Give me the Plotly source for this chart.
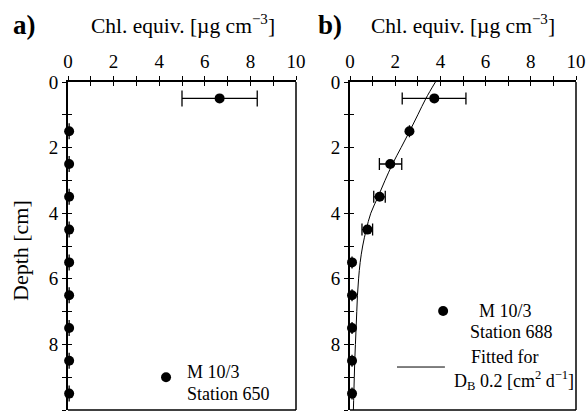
import plotly.graph_objects as go

# ---------------- data ----------------
# Panel a) station 650
a_depth = [0.5, 1.5, 2.5, 3.5, 4.5, 5.5, 6.5, 7.5, 8.5, 9.5]
a_chl = [6.65, 0.05, 0.05, 0.05, 0.05, 0.05, 0.05, 0.05, 0.05, 0.05]
a_err_plus = [1.65, 0, 0, 0, 0, 0, 0, 0, 0, 0]
a_err_minus = [1.65, 0, 0, 0, 0, 0, 0, 0, 0, 0]

# Panel b) station 688
b_depth = [0.5, 1.5, 2.5, 3.5, 4.5, 5.5, 6.5, 7.5, 8.5, 9.5]
b_chl = [3.73, 2.63, 1.78, 1.31, 0.77, 0.09, 0.09, 0.09, 0.09, 0.09]
b_err_plus = [1.40, 0, 0.51, 0.25, 0.23, 0, 0, 0, 0, 0]
b_err_minus = [1.42, 0, 0.48, 0.26, 0.24, 0, 0, 0, 0, 0]

# fitted curve (D_B 0.2)
fit_depth = [0, 0.5, 1, 1.5, 2, 2.5, 3, 3.5, 4, 4.5, 5, 5.5, 6, 6.5, 7, 7.5, 8, 8.5, 9, 9.5, 10]
fit_chl = [3.78, 3.36, 3.0, 2.64, 2.26, 1.88, 1.55, 1.24, 0.92, 0.72, 0.56, 0.45, 0.38, 0.33, 0.30, 0.27, 0.24, 0.21, 0.19, 0.17, 0.15]

# legend sample positions
leg_a_marker = ([4.3], [9.0])
leg_b_marker = ([4.12], [6.98])
leg_b_line = ([2.08, 4.2], [8.69, 8.69])

x_ticks = [0, 2, 4, 6, 8, 10]
y_ticks = [0, 2, 4, 6, 8, 10]

FONT = "Liberation Serif"
BLACK = "black"

fig = go.Figure()

dom_a = [68 / 586, 296 / 586]
dom_b = [350 / 586, 576 / 586]
dom_y = [1 - 410 / 415, 1 - 82 / 415]

def pts(x, y, ep, em, xa, ya, capw):
    fig.add_trace(go.Scatter(
        x=x, y=y, mode="markers", xaxis=xa, yaxis=ya,
        marker=dict(size=10, color=BLACK),
        error_x=dict(type="data", array=ep, arrayminus=em, symmetric=False,
                     color=BLACK, thickness=1.3, width=capw),
        showlegend=False, cliponaxis=False))

pts(a_chl, a_depth, a_err_plus, a_err_minus, "x", "y", 8)
pts(b_chl, b_depth, b_err_plus, b_err_minus, "x2", "y2", 6)

fig.add_trace(go.Scatter(x=fit_chl, y=fit_depth, mode="lines", xaxis="x2", yaxis="y2",
                         line=dict(color=BLACK, width=1, shape="spline"), showlegend=False))

# legend symbols
fig.add_trace(go.Scatter(x=leg_a_marker[0], y=leg_a_marker[1], mode="markers", xaxis="x", yaxis="y",
                         marker=dict(size=10, color=BLACK), showlegend=False))
fig.add_trace(go.Scatter(x=leg_b_marker[0], y=leg_b_marker[1], mode="markers", xaxis="x2", yaxis="y2",
                         marker=dict(size=10, color=BLACK), showlegend=False))
fig.add_trace(go.Scatter(x=leg_b_line[0], y=leg_b_line[1], mode="lines", xaxis="x2", yaxis="y2",
                         line=dict(color=BLACK, width=1), showlegend=False))

tickfont = dict(family=FONT, size=19, color=BLACK)

def xaxis(dom, anchor, main=True, overlay=None):
    d = dict(domain=dom, range=[0, 10], side="top", anchor=anchor,
             tickvals=x_ticks, showgrid=False, zeroline=False,
             ticklen=4, tickwidth=1.2, tickcolor=BLACK,
             minor=dict(dtick=1, tick0=0, ticklen=4, tickwidth=1.2, tickcolor=BLACK,
                        ticks="outside" if main else "inside", showgrid=False),
             fixedrange=True, automargin=False)
    if main:
        d.update(ticks="outside", showline=True, linecolor=BLACK, linewidth=2,
                 tickfont=tickfont, ticklabelstandoff=0)
    else:
        d.update(ticks="inside", showline=False, showticklabels=False, overlaying=overlay)
    return d

def yaxis(anchor, main=True, overlay=None):
    d = dict(domain=dom_y, range=[10, 0], anchor=anchor,
             tickvals=y_ticks, showgrid=False, zeroline=False,
             ticklen=4, tickwidth=1.2, tickcolor=BLACK,
             minor=dict(dtick=1, tick0=0, ticklen=4, tickwidth=1.2, tickcolor=BLACK,
                        ticks="outside" if main else "inside", showgrid=False),
             fixedrange=True, automargin=False)
    if main:
        d.update(ticks="outside", showline=True, linecolor=BLACK, linewidth=2,
                 tickfont=tickfont, ticklabelstandoff=0)
    else:
        d.update(ticks="inside", showline=False, showticklabels=False, overlaying=overlay)
    return d

fig.update_layout(
    width=586, height=415, autosize=False,
    margin=dict(l=0, r=0, t=0, b=0, pad=0),
    paper_bgcolor="white", plot_bgcolor="white",
    font=dict(family=FONT, color=BLACK),
    xaxis=xaxis(dom_a, "y"),
    yaxis=yaxis("x"),
    xaxis2=xaxis(dom_b, "y2"),
    yaxis2=yaxis("x2"),
    xaxis3=xaxis(dom_a, "y", main=False, overlay="x"),
    yaxis3=yaxis("x", main=False, overlay="y"),
    xaxis4=xaxis(dom_b, "y2", main=False, overlay="x2"),
    yaxis4=yaxis("x2", main=False, overlay="y2"),
    showlegend=False,
)

# dummy traces to activate overlay axes
fig.add_trace(go.Scatter(x=[None], y=[None], xaxis="x3", yaxis="y3", showlegend=False))
fig.add_trace(go.Scatter(x=[None], y=[None], xaxis="x4", yaxis="y4", showlegend=False))

# right/bottom frame lines
for xd in ("x", "x2"):
    fig.add_shape(type="line", xref=f"{xd} domain", yref="paper", x0=1, x1=1,
                  y0=dom_y[0], y1=dom_y[1], line=dict(color=BLACK, width=1.5))
    fig.add_shape(type="line", xref=f"{xd} domain", yref="paper", x0=0, x1=1,
                  y0=dom_y[0], y1=dom_y[0], line=dict(color=BLACK, width=1.5))

def px(xp, yp):
    return xp / 586, 1 - yp / 415

def ann(xp, yp, text, size, xanchor="center", angle=0):
    x, y = px(xp, yp)
    fig.add_annotation(x=x, y=y, xref="paper", yref="paper", text=text, showarrow=False,
                       xanchor=xanchor, yanchor="middle", textangle=angle,
                       font=dict(family=FONT, size=size, color=BLACK))

ann(24.5, 25, "<b>a)</b>", 27)
ann(329.5, 25, "<b>b)</b>", 27)
ann(183, 25, "Chl. equiv. [µg cm<sup>−3</sup>]", 21.5)
ann(463, 25, "Chl. equiv. [µg cm<sup>−3</sup>]", 21.5)
ann(20, 251, "Depth [cm]", 22, angle=-90)

ann(185, 372, "M 10/3", 18, xanchor="left")
ann(185, 394, "Station 650", 18, xanchor="left")
ann(505, 311, "M 10/3", 18)
ann(511, 332, "Station 688", 18)
ann(505, 357, "Fitted for", 18)
ann(514, 380, "D<sub>B</sub> 0.2 [cm<sup>2</sup> d<sup>−1</sup>]", 18)

fig.write_html("out.html", config={"responsive": False, "displayModeBar": False},
               post_script="document.body.style.margin='0';document.body.style.overflow='hidden';")
